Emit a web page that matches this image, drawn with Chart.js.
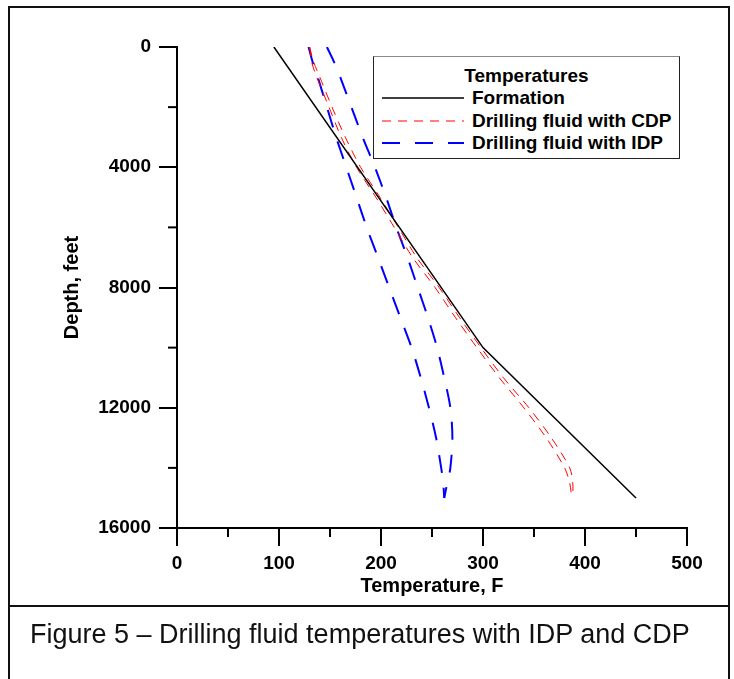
<!DOCTYPE html>
<html>
<head>
<meta charset="utf-8">
<script src="https://cdn.jsdelivr.net/npm/chart.js@4"></script>
<style>
  html, body { margin: 0; padding: 0; background: #fff; }
  body { width: 734px; height: 679px; position: relative; overflow: hidden; font-family: "Liberation Sans", Arial, sans-serif; }
  #chart { position: absolute; left: 0; top: 0; }
  .frame { position: absolute; left: 8px; top: 6px; width: 718px; height: 700px; border: 2px solid #111; pointer-events: none; }
  .divider { position: absolute; left: 8px; top: 605px; width: 722px; height: 2px; background: #111; }
  .legend { position: absolute; left: 373px; top: 56px; width: 305px; height: 101px; border: 1px solid #222; border-top-color: #888; background: #fff; font-weight: bold; font-size: 19px; }
  .legend .title { position: absolute; left: 0; width: 100%; top: 8px; text-align: center; line-height: 22px; }
  .legend .item { position: absolute; left: 0; width: 100%; height: 22px; line-height: 22px; }
  .legend .item svg { position: absolute; left: 8px; top: 0; }
  .legend .item span { position: absolute; left: 98px; top: 0; white-space: nowrap; }
  .caption { position: absolute; left: 30px; top: 621px; font-size: 27px; line-height: 27px; white-space: nowrap; color: #111; }
</style>
</head>
<body>
<canvas id="chart" width="734" height="604"></canvas>
<div class="frame"></div>
<div class="divider"></div>
<div class="legend" id="legend"><div class="title">Temperatures</div></div>
<div class="caption">Figure 5 – Drilling fluid temperatures with IDP and CDP</div>
<script>
// depth stations, ft
const depths = [0, 500, 1000, 2000, 3000, 4000, 5000, 6000, 7000, 8000, 9000, 10000, 11000, 12000, 13000, 14000, 14500, 15000];

// formation (geothermal) profile, two gradients
const formationDepths = [0, 10000, 15000];
const formationTemps = [95, 300, 450];

// drilling fluid with CDP (the two close red curves)
const cdpInner = [130, 132, 137, 149, 161, 176, 195, 213, 231, 253, 273, 294, 316, 340, 362, 380, 385, 387];
const cdpOuter = [130, 134, 140, 152, 165, 180, 199, 217, 235, 257, 277, 298, 320, 345, 367, 385, 388, 388];

// drilling fluid with IDP (the blue loop)
const idpLeft = [129, 133, 138, 147, 156, 166, 176, 186, 197, 208, 219, 230, 239, 247, 254, 259, 261, 262];
const idpRight = [147, 154, 160, 171, 182, 194, 205, 215, 226, 236, 246, 255, 262, 268, 270, 268, 265, 262];

const xTickValues = [0, 100, 200, 300, 400, 500];
const xTickLabels = ["0", "100", "200", "300", "400", "500"];
const yTickValues = [0, 4000, 8000, 12000, 16000];
const yTickLabels = ["0", "4000", "8000", "12000", "16000"];
const xMinorTicks = [50, 150, 250, 350, 450];
const yMinorTicks = [2000, 6000, 10000, 14000];

const legendItems = [
  { label: "Formation", color: "#000000", dash: "", width: 1.5 },
  { label: "Drilling fluid with CDP", color: "#ff0000", dash: "9 7", width: 1 },
  { label: "Drilling fluid with IDP", color: "#0000ff", dash: "18 15", width: 2 },
];

const tickFont = { family: "'Liberation Sans', Arial, sans-serif", size: 19, weight: "bold" };
const titleFont = { family: "'Liberation Sans', Arial, sans-serif", size: 20, weight: "bold" };

function toPoints(temps, ds) {
  return temps.map(function (t, i) { return { x: t, y: ds[i] }; });
}

function labelFor(values, labels) {
  return function (v) {
    const i = values.indexOf(v);
    return i < 0 ? "" : labels[i];
  };
}

// 짧은 보조 눈금 (중간값) — 주 눈금보다 짧게 따로 그림
const minorTickPlugin = {
  id: "minorTicks",
  afterDraw(chart) {
    const { ctx, chartArea } = chart;
    const x = chart.scales.x;
    const y = chart.scales.y;
    ctx.save();
    ctx.strokeStyle = "#000";
    ctx.lineWidth = 2;
    xMinorTicks.forEach(function (v) {
      const px = x.getPixelForValue(v);
      ctx.beginPath();
      ctx.moveTo(px, chartArea.bottom);
      ctx.lineTo(px, chartArea.bottom + 9);
      ctx.stroke();
    });
    yMinorTicks.forEach(function (v) {
      const py = y.getPixelForValue(v);
      ctx.beginPath();
      ctx.moveTo(chartArea.left, py);
      ctx.lineTo(chartArea.left - 9, py);
      ctx.stroke();
    });
    ctx.restore();
  },
};

const redStyle = { borderColor: "#ff0000", borderWidth: 1, borderDash: [9, 7], tension: 0.3 };
const blueStyle = { borderColor: "#0000ff", borderWidth: 2, borderDash: [18, 15], tension: 0.3 };

new Chart(document.getElementById("chart"), {
  type: "scatter",
  data: {
    datasets: [
      { label: "Formation", data: toPoints(formationTemps, formationDepths), borderColor: "#000", borderWidth: 1.5, tension: 0 },
      Object.assign({ label: "CDP 1", data: toPoints(cdpInner, depths) }, redStyle),
      Object.assign({ label: "CDP 2", data: toPoints(cdpOuter, depths) }, redStyle),
      Object.assign({ label: "IDP 1", data: toPoints(idpLeft, depths) }, blueStyle),
      Object.assign({ label: "IDP 2", data: toPoints(idpRight, depths) }, blueStyle),
    ],
  },
  options: {
    responsive: false,
    animation: false,
    devicePixelRatio: 1,
    showLine: true,
    elements: { point: { radius: 0 } },
    layout: { padding: { left: 0, top: 47, right: 47, bottom: 0 } },
    plugins: { legend: { display: false }, tooltip: { enabled: false } },
    scales: {
      x: {
        type: "linear",
        position: "bottom",
        min: 0,
        max: 500,
        ticks: {
          stepSize: 100,
          font: tickFont,
          color: "#000",
          padding: 6,
          callback: labelFor(xTickValues, xTickLabels),
        },
        grid: { drawOnChartArea: false, drawTicks: true, tickLength: 18, color: "#000", lineWidth: 2 },
        border: { display: true, color: "#000", width: 2 },
        title: { display: true, text: "Temperature, F", font: titleFont, color: "#000", padding: { top: 0, bottom: 6 } },
        afterFit(scale) { scale.height = 76; },
      },
      y: {
        type: "linear",
        reverse: true,
        min: 0,
        max: 16000,
        ticks: {
          stepSize: 4000,
          font: tickFont,
          color: "#000",
          padding: 8,
          callback: labelFor(yTickValues, yTickLabels),
        },
        grid: { drawOnChartArea: false, drawTicks: true, tickLength: 18, color: "#000", lineWidth: 2 },
        border: { display: true, color: "#000", width: 2 },
        title: { display: true, text: "Depth, feet", font: titleFont, color: "#000", padding: { top: 60, bottom: 0 } },
        afterFit(scale) { scale.width = 177; },
      },
    },
  },
  plugins: [minorTickPlugin],
});

// 범례는 HTML로 (세 항목, 선 샘플 + 글자)
const legendEl = document.getElementById("legend");
legendItems.forEach(function (item, i) {
  const row = document.createElement("div");
  row.className = "item";
  row.style.top = (30 + i * 22.5) + "px";
  row.innerHTML =
    '<svg width="82" height="22"><line x1="0" y1="11" x2="82" y2="11" stroke="' + item.color +
    '" stroke-width="' + item.width + '"' + (item.dash ? ' stroke-dasharray="' + item.dash + '"' : "") +
    "/></svg><span>" + item.label + "</span>";
  legendEl.appendChild(row);
});
</script>
</body>
</html>
